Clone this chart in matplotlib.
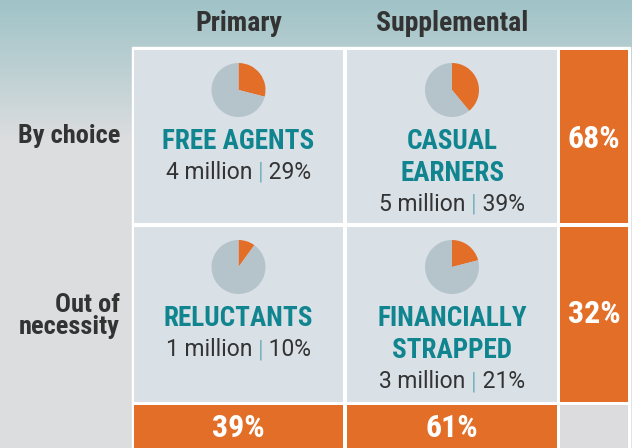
import matplotlib
matplotlib.use("Agg")
from matplotlib import pyplot as plt
from matplotlib.patches import Rectangle
import numpy as np

# data
col_labels = ["Primary", "Supplemental"]
row_labels = ["By choice", "Out of\nnecessity"]
segment_names = [["FREE AGENTS", "CASUAL\nEARNERS"],
                 ["RELUCTANTS", "FINANCIALLY\nSTRAPPED"]]
segment_millions = [[4, 5], [1, 3]]
segment_shares = [[29, 39], [10, 21]]
row_totals = [68, 32]
col_totals = [39, 61]

# colours
orange = "#e26e27"
teal = "#10858f"
cell_bg = "#d9e0e6"
pie_grey = "#b5c3cb"
dark = "#333333"
bar_col = "#7ab3bd"

W, H = 632, 448
fig = plt.figure(figsize=(W / 100, H / 100), dpi=100)
ax = fig.add_axes([0, 0, 1, 1])
ax.set_xlim(0, W)
ax.set_ylim(H, 0)
ax.axis("off")

# background gradient (teal-grey at top fading to light grey)
top = np.array([0x9f, 0xc3, 0xc7]) / 255
bot = np.array([0xdc, 0xdd, 0xdf]) / 255
yy = np.linspace(0, 1, H)
t = np.clip(yy * H / 140, 0, 1)[:, None]
grad = top * (1 - t) + bot * t
img = np.repeat(grad[:, None, :], W, axis=1)
ax.imshow(img, extent=(0, W, H, 0), aspect="auto", zorder=0)

narrow = ["Roboto Condensed", "DejaVu Sans"]
regular = ["Roboto", "DejaVu Sans"]

# grid geometry (pixels)
xs = [(134, 343), (347, 557), (560, 628)]
ys = [(50, 223), (227, 402), (405, 448)]

ax.add_patch(Rectangle((131.5, 47.5), 630 - 131.5, H - 47.5, color="white", zorder=1))
for i in range(3):
    for j in range(3):
        x0, x1 = xs[j]
        y0, y1 = ys[i]
        if i < 2 and j < 2:
            c = cell_bg
        elif i == 2 and j == 2:
            c = "#dcdcde"
        else:
            c = orange
        ax.add_patch(Rectangle((x0, y0), x1 - x0, y1 - y0, color=c, lw=0, zorder=2))

# headers
for j, lab in enumerate(col_labels):
    cx = (xs[j][0] + xs[j][1]) / 2
    ax.text(cx, 31, lab, ha="center", va="baseline", fontsize=20,
            fontweight="bold", color=dark, family=narrow, zorder=3)
ax.text(120, 143, row_labels[0], ha="right", va="baseline", fontsize=19,
        fontweight="bold", color=dark, family=narrow, zorder=3)
ax.text(120, 334, row_labels[1], ha="right", va="baseline", fontsize=19,
        fontweight="bold", color=dark, family=narrow, linespacing=0.92, zorder=3)

fig.canvas.draw()
renderer = fig.canvas.get_renderer()

# segment cells
for i in range(2):
    for j in range(2):
        cx = (xs[j][0] + xs[j][1]) / 2
        y0 = ys[i][0]
        share = segment_shares[i][j]
        # pie
        r = 27
        pcy = y0 + 40
        pax = fig.add_axes([(cx - r) / W, 1 - (pcy + r) / H, 2 * r / W, 2 * r / H])
        pax.pie([share, 100 - share], colors=[orange, pie_grey], startangle=90,
                counterclock=False, wedgeprops=dict(linewidth=0))
        pax.set_xlim(-1, 1)
        pax.set_ylim(-1, 1)
        pax.set_aspect("equal")
        # name
        lines = segment_names[i][j].split("\n")
        base = y0 + 99
        for k, ln in enumerate(lines):
            ax.text(cx, base + 32 * k, ln, ha="center", va="baseline",
                    fontsize=19.5, fontweight="bold", color=teal, family=narrow, zorder=3)
        # value line
        vy = base + 32 * (len(lines) - 1) + 30
        parts = [("%d million " % segment_millions[i][j], dark),
                 ("|", bar_col),
                 (" %d%%" % share, dark)]
        widths = []
        for txt, col in parts:
            tt = ax.text(0, vy, txt, fontsize=16.5, family=regular, va="baseline")
            widths.append(tt.get_window_extent(renderer).width)
            tt.remove()
        x = cx - sum(widths) / 2
        for (txt, col), w in zip(parts, widths):
            ax.text(x, vy, txt, ha="left", va="baseline", fontsize=16.5,
                    family=regular, color=col, zorder=3)
            x += w

# totals
tot_base = [148, 323]
for i in range(2):
    cx = (xs[2][0] + xs[2][1]) / 2
    ax.text(cx, tot_base[i], "%d%%" % row_totals[i], ha="center", va="baseline",
            fontsize=23, fontweight="bold", color="white", family=narrow, zorder=3)
for j in range(2):
    cx = (xs[j][0] + xs[j][1]) / 2
    ax.text(cx, 437, "%d%%" % col_totals[j], ha="center", va="baseline",
            fontsize=23, fontweight="bold", color="white", family=narrow, zorder=3)

fig.savefig("out.png", dpi=100)
